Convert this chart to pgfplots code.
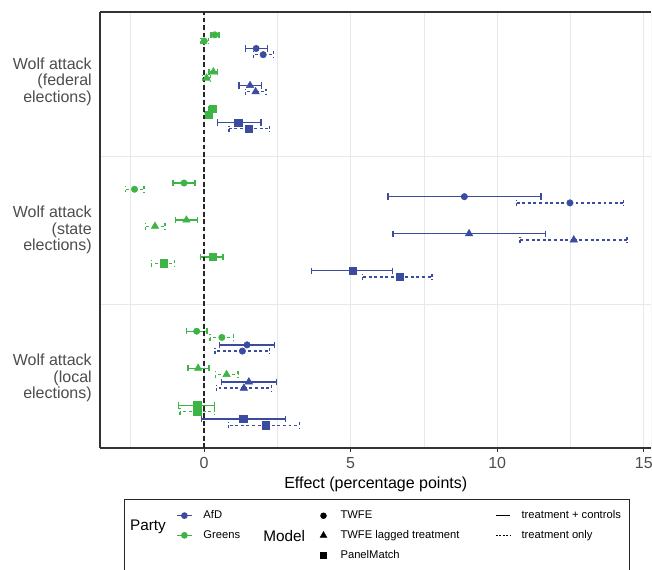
\documentclass[border=0pt]{standalone}
\usepackage{pgfplots}
\pgfplotsset{compat=1.18}
\usepackage{pgfplotstable}
\usepackage{fontspec}
\setmainfont{Liberation Sans}
\definecolor{afd}{RGB}{58,75,160}
\definecolor{grn}{RGB}{60,180,70}
\definecolor{axtext}{RGB}{77,77,77}
\definecolor{gridc}{RGB}{232,232,232}
\definecolor{spine}{RGB}{51,51,51}

% y: row position (federal=3, state=2, local=1 plus offsets); x: effect; lo/hi: CI
% Greens, treatment + controls
\pgfplotstableread{
y x lo hi
3.317 0.37 0.24 0.51
2.317 -0.68 -1.06 -0.31
1.317 -0.25 -0.59 0.10
}\gsc
\pgfplotstableread{
y x lo hi
3.067 0.32 0.17 0.45
2.067 -0.60 -0.98 -0.23
1.067 -0.20 -0.55 0.17
}\gst
\pgfplotstableread{
y x lo hi
2.817 0.30 0.15 0.43
1.817 0.29 -0.11 0.65
0.817 -0.23 -0.86 0.35
}\gss
% Greens, treatment only
\pgfplotstableread{
y x lo hi
3.275 0.01 -0.10 0.15
2.275 -2.37 -2.68 -2.04
1.275 0.61 0.20 1.01
}\gdc
\pgfplotstableread{
y x lo hi
3.025 0.09 -0.05 0.23
2.025 -1.67 -2.00 -1.33
1.025 0.77 0.39 1.16
}\gdt
\pgfplotstableread{
y x lo hi
2.775 0.15 0.04 0.26
1.775 -1.38 -1.79 -1.01
0.775 -0.23 -0.82 0.35
}\gds
% AfD, treatment + controls
\pgfplotstableread{
y x lo hi
3.225 1.78 1.41 2.17
2.225 8.88 6.27 11.49
1.225 1.47 0.52 2.41
}\bsc
\pgfplotstableread{
y x lo hi
2.975 1.57 1.19 1.95
1.975 9.04 6.45 11.64
0.975 1.53 0.59 2.48
}\bst
\pgfplotstableread{
y x lo hi
2.725 1.17 0.47 1.94
1.725 5.06 3.66 6.42
0.725 1.34 -0.09 2.77
}\bss
% AfD, treatment only
\pgfplotstableread{
y x lo hi
3.183 2.02 1.68 2.36
2.183 12.48 10.66 14.31
1.183 1.31 0.38 2.24
}\bdc
\pgfplotstableread{
y x lo hi
2.933 1.76 1.42 2.11
1.933 12.61 10.78 14.43
0.933 1.36 0.43 2.30
}\bdt
\pgfplotstableread{
y x lo hi
2.683 1.52 0.85 2.23
1.683 6.67 5.41 7.77
0.683 2.12 0.84 3.26
}\bds

\tikzset{
  mc/.style={mark=*, mark size=2.4pt},
  mt/.style={mark=triangle*, mark size=3.2pt},
  ms/.style={mark=square*, mark size=2.7pt},
  solidci/.style={solid},
  dashci/.style={dash pattern=on 2.2pt off 2pt},
}
\newcommand{\ser}[4]{%
  \addplot[color=#2, #3, only marks, mark options={solid, fill=#2, draw=#2},
    error bars/.cd, x dir=both, x explicit,
    error bar style={color=#2, line width=1pt, #4},
    error mark options={color=#2, line width=1pt, mark size=2.4pt, rotate=90, #4}]
  table[x=x, y=y, x error minus expr={\thisrow{x}-\thisrow{lo}},
        x error plus expr={\thisrow{hi}-\thisrow{x}}] {#1};
}

\begin{document}
\begin{tikzpicture}
\begin{axis}[
  at={(75pt,-336pt)}, anchor=south west,
  scale only axis, width=413.6pt, height=327pt,
  xmin=-3.546, xmax=15.26, ymin=0.529, ymax=3.471,
  axis x line*=box, axis y line*=left,
  axis line style={spine, line width=0.9pt},
  xtick={0,5,10,15}, minor xtick={-2.5,2.5,7.5,12.5},
  ytick={1,2,3}, minor ytick={1.5,2.5},
  yticklabels={{Wolf attack\\(local\\elections)},{Wolf attack\\(state\\elections)},{Wolf attack\\(federal\\elections)}},
  xmajorgrids, xminorgrids, yminorgrids,
  grid style={gridc, line width=0.7pt},
  minor grid style={gridc, line width=0.5pt},
  minor tick length=0pt, major tick length=3pt, tick align=outside,
  xtick pos=left,
  xtick style={spine, line width=0.7pt},
  ytick style={draw=none},
  /pgf/number format/assume math mode=true,
  xticklabel style={font=\fontsize{12}{14}\selectfont, text=axtext, inner sep=0pt, yshift=-3.9pt},
  yticklabel style={font=\fontsize{12}{12.4}\selectfont, text=axtext, align=right, inner sep=0pt, xshift=-3pt},
  xlabel={Effect (percentage points)},
  xlabel style={font=\fontsize{12}{14}\selectfont, at={(axis description cs:0.5,0)}, anchor=center, yshift=-27pt},
  clip=true,
]
\draw[gridc, line width=0.7pt] (rel axis cs:1,0) -- (rel axis cs:1,1);
\ser{\gsc}{grn}{mc}{solidci}
\ser{\gdc}{grn}{mc}{dashci}
\ser{\bsc}{afd}{mc}{solidci}
\ser{\bdc}{afd}{mc}{dashci}
\ser{\gst}{grn}{mt}{solidci}
\ser{\gdt}{grn}{mt}{dashci}
\ser{\bst}{afd}{mt}{solidci}
\ser{\bdt}{afd}{mt}{dashci}
\ser{\gss}{grn}{ms}{solidci}
\ser{\gds}{grn}{ms}{dashci}
\ser{\bss}{afd}{ms}{solidci}
\ser{\bds}{afd}{ms}{dashci}
\addplot[black!85, line width=1.3pt, dash pattern=on 3.6pt off 2pt] coordinates {(0,0.529) (0,3.471)};
\end{axis}

% legend frame and titles
\draw[black!85, line width=0.75pt] (93pt,-374.25pt) rectangle (471.75pt,-470pt);
\node[font=\fontsize{11.5}{13}\selectfont] at (111pt,-395.25pt) {Party};
\node[font=\fontsize{11.5}{13}\selectfont] at (213.1pt,-402pt) {Model};

\pgfplotsset{legstyle/.style={draw=none, fill=none, inner sep=0pt, outer sep=0pt,
   row sep=6.8pt, column sep=8.3pt, font=\fontsize{8.4}{10}\selectfont,
   nodes={inner sep=0pt, text height=6.2pt, text depth=1.8pt}}}

% Party legend
\begin{axis}[at={(132.3pt,-394.1pt)}, anchor=center, hide axis, scale only axis,
  width=1pt, height=1pt, xmin=0, xmax=1, ymin=0, ymax=1,
  legend cell align=left,
  legend style={at={(0.5,0.5)}, anchor=west, legstyle, column sep=8.3pt},
  legend image code/.code={\draw[mark repeat=2, mark phase=2, #1] plot coordinates {(0pt,0pt) (5.6pt,0pt) (11.2pt,0pt)};}]
\addlegendimage{afd, line width=0.8pt, mark=*, mark size=2.1pt, mark options={solid, fill=afd}}
\addlegendentry{AfD}
\addlegendimage{grn, line width=0.8pt, mark=*, mark size=2.1pt, mark options={solid, fill=grn}}
\addlegendentry{Greens}
\end{axis}

% Model legend
\begin{axis}[at={(240.1pt,-401.6pt)}, anchor=center, hide axis, scale only axis,
  width=1pt, height=1pt, xmin=0, xmax=1, ymin=0, ymax=1,
  legend cell align=left,
  legend style={at={(0.5,0.5)}, anchor=west, legstyle, column sep=10.3pt},
  legend image code/.code={\draw[#1] plot coordinates {(0pt,0pt)};}]
\addlegendimage{black, mark=*, mark size=2.2pt}
\addlegendentry{TWFE}
\addlegendimage{black, mark=triangle*, mark size=2.9pt}
\addlegendentry{TWFE lagged treatment}
\addlegendimage{black, mark=square*, mark size=2.3pt}
\addlegendentry{PanelMatch}
\end{axis}

% Line type legend
\begin{axis}[at={(371.6pt,-394.1pt)}, anchor=center, hide axis, scale only axis,
  width=1pt, height=1pt, xmin=0, xmax=1, ymin=0, ymax=1,
  legend cell align=left,
  legend style={at={(0.5,0.5)}, anchor=west, legstyle, column sep=8.3pt},
  legend image code/.code={\draw[#1] (0pt,0pt) -- (10.6pt,0pt);}]
\addlegendimage{black, line width=0.7pt}
\addlegendentry{treatment + controls}
\addlegendimage{black, line width=0.7pt, dash pattern=on 1.5pt off 1.1pt}
\addlegendentry{treatment only}
\end{axis}

\pgfresetboundingbox
\useasboundingbox (0pt,0pt) rectangle (489pt,-426.75pt);
\end{tikzpicture}
\end{document}
